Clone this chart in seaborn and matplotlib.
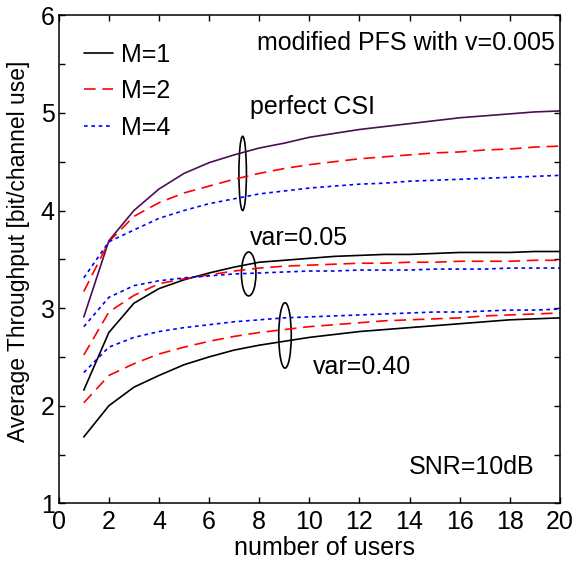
import matplotlib
matplotlib.use('Agg')
import matplotlib.pyplot as plt
from matplotlib.patches import Ellipse
from matplotlib.lines import Line2D
from matplotlib.ticker import MultipleLocator
import seaborn as sns
import pandas as pd

# ── Data ──────────────────────────────────────────────────────────────────────
users = list(range(1, 21))

csi_m1 = [2.91, 3.69, 4.00, 4.22, 4.38, 4.49, 4.57, 4.64, 4.69, 4.75,
          4.79, 4.83, 4.86, 4.89, 4.92, 4.95, 4.97, 4.99, 5.01, 5.02]
csi_m2 = [3.17, 3.68, 3.94, 4.08, 4.18, 4.25, 4.32, 4.38, 4.43, 4.47,
          4.50, 4.53, 4.55, 4.57, 4.59, 4.60, 4.62, 4.63, 4.65, 4.66]
csi_m4 = [3.31, 3.68, 3.80, 3.92, 4.00, 4.07, 4.12, 4.17, 4.20, 4.23,
          4.25, 4.27, 4.28, 4.30, 4.31, 4.32, 4.33, 4.34, 4.35, 4.36]

v05_m1 = [2.16, 2.75, 3.05, 3.20, 3.29, 3.36, 3.42, 3.47, 3.49, 3.51,
          3.53, 3.54, 3.55, 3.55, 3.56, 3.57, 3.57, 3.57, 3.58, 3.58]
v05_m2 = [2.52, 2.96, 3.13, 3.25, 3.30, 3.34, 3.38, 3.41, 3.43, 3.44,
          3.45, 3.46, 3.46, 3.47, 3.47, 3.48, 3.48, 3.48, 3.49, 3.49]
v05_m4 = [2.81, 3.11, 3.23, 3.28, 3.31, 3.33, 3.35, 3.36, 3.37, 3.38,
          3.38, 3.39, 3.39, 3.39, 3.40, 3.40, 3.40, 3.41, 3.41, 3.41]

v40_m1 = [1.68, 2.00, 2.19, 2.31, 2.42, 2.50, 2.57, 2.62, 2.66, 2.70,
          2.73, 2.76, 2.78, 2.80, 2.82, 2.84, 2.86, 2.88, 2.89, 2.90]
v40_m2 = [2.03, 2.31, 2.43, 2.53, 2.60, 2.66, 2.71, 2.75, 2.78, 2.81,
          2.83, 2.85, 2.87, 2.88, 2.89, 2.90, 2.92, 2.93, 2.94, 2.95]
v40_m4 = [2.34, 2.60, 2.70, 2.76, 2.80, 2.83, 2.86, 2.88, 2.90, 2.91,
          2.92, 2.93, 2.94, 2.95, 2.96, 2.96, 2.97, 2.98, 2.98, 2.99]

legend_labels = ['M=1', 'M=2', 'M=4']

# ── Style ─────────────────────────────────────────────────────────────────────
sns.set_style('ticks')
plt.rcParams['font.family'] = ['Liberation Sans', 'DejaVu Sans']
plt.rcParams.update({
    'text.color': 'black', 'axes.labelcolor': 'black', 'axes.edgecolor': 'black',
    'xtick.color': 'black', 'ytick.color': 'black',
    'axes.linewidth': 1.1,
    'xtick.direction': 'in', 'ytick.direction': 'in',
    'xtick.top': True, 'ytick.right': True,
    'xtick.major.size': 4, 'ytick.major.size': 4,
    'ytick.minor.size': 4, 'xtick.major.width': 1.0, 'ytick.major.width': 1.0,
    'ytick.minor.width': 1.0,
})
FS = 18

STYLE = {
    'M=1': dict(color='black', ls='-'),
    'M=2': dict(color='#ff0000', ls=(0, (7, 4))),
    'M=4': dict(color='#0000ff', ls=(0, (2.2, 2.2))),
}
PURPLE = '#4a0f52'

fig = plt.figure(figsize=(5.76, 5.62), dpi=100)
ax = fig.add_axes([0.102, 0.1044, 0.870, 0.8684])

groups = [(csi_m1, csi_m2, csi_m4), (v05_m1, v05_m2, v05_m4), (v40_m1, v40_m2, v40_m4)]
for gi, series in enumerate(groups):
    for lab, vals in zip(legend_labels, series):
        st = STYLE[lab]
        col = PURPLE if (gi == 0 and lab == 'M=1') else st['color']
        df = pd.DataFrame({'users': users, 'thr': vals})
        sns.lineplot(data=df, x='users', y='thr', ax=ax, color=col,
                     linestyle=st['ls'], linewidth=1.2, legend=False)

# ── Ellipses marking the groups ──────────────────────────────────────────────
for (cx, cy, w, h) in [(7.34, 4.38, 0.30, 0.76), (7.58, 3.35, 0.58, 0.45), (9.03, 2.72, 0.50, 0.67)]:
    ax.add_patch(Ellipse((cx, cy), w, h, fill=False, edgecolor='black', lw=1.2))

ax.set_xlim(0, 20)
ax.set_ylim(1, 6)
ax.xaxis.set_major_locator(MultipleLocator(2))
ax.yaxis.set_major_locator(MultipleLocator(1))
ax.yaxis.set_minor_locator(MultipleLocator(0.5))
ax.tick_params(labelsize=FS)
ax.tick_params(axis='x', pad=5)
ax.tick_params(axis='y', pad=3)
ax.set_xlabel('number of users', fontsize=FS)
ax.set_ylabel('Average Throughput [bit/channel use]', fontsize=FS - 1.5)
ax.xaxis.set_label_coords(0.531, -0.066)
ax.yaxis.set_label_coords(-0.057, 0.517)

ax.text(0.990, 0.9426, 'modified PFS with v=0.005', transform=ax.transAxes,
        ha='right', va='center', fontsize=FS)
ax.text(7.63, 5.06, 'perfect CSI', fontsize=FS, ha='left', va='center')
ax.text(7.63, 3.715, 'var=0.05', fontsize=FS, ha='left', va='center')
ax.text(10.16, 2.40, 'var=0.40', fontsize=FS, ha='left', va='center')
ax.text(0.950, 0.075, 'SNR=10dB', transform=ax.transAxes,
        ha='right', va='center', fontsize=FS)

handles = [Line2D([], [], color=STYLE[l]['color'], linestyle=STYLE[l]['ls'], lw=1.2)
           for l in legend_labels]
ax.legend(handles, legend_labels, loc='upper left', frameon=False, fontsize=FS,
          handlelength=1.15, handletextpad=0.35, labelspacing=0.50,
          borderpad=0, borderaxespad=0, bbox_to_anchor=(0.05, 0.944))

fig.savefig('out.png', dpi=100)
